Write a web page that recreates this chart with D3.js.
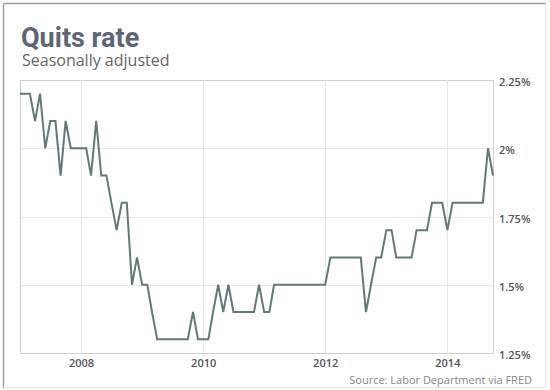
<!DOCTYPE html>
<html>
<head>
<meta charset="utf-8">
<script src="https://cdnjs.cloudflare.com/ajax/libs/d3/7.8.5/d3.min.js"></script>
<style>
  body { margin: 0; background: #fff; }
  text { font-family: "Open Sans", sans-serif; }
</style>
</head>
<body>
<div id="chart"></div>
<script>
// quits rate, monthly, Jan 2007 .. Oct 2014
var startMonth = '2007-01';
var quits = [
  2.2, 2.2, 2.2, 2.1, 2.2, 2.0, 2.1, 2.1, 1.9, 2.1, 2.0, 2.0, // 2007
  2.0, 2.0, 1.9, 2.1, 1.9, 1.9, 1.8, 1.7, 1.8, 1.8, 1.5, 1.6, // 2008
  1.5, 1.5, 1.4, 1.3, 1.3, 1.3, 1.3, 1.3, 1.3, 1.3, 1.4, 1.3, // 2009
  1.3, 1.3, 1.4, 1.5, 1.4, 1.5, 1.4, 1.4, 1.4, 1.4, 1.4, 1.5, // 2010
  1.4, 1.4, 1.5, 1.5, 1.5, 1.5, 1.5, 1.5, 1.5, 1.5, 1.5, 1.5, // 2011
  1.5, 1.6, 1.6, 1.6, 1.6, 1.6, 1.6, 1.6, 1.4, 1.5, 1.6, 1.6, // 2012
  1.7, 1.7, 1.6, 1.6, 1.6, 1.6, 1.7, 1.7, 1.7, 1.8, 1.8, 1.8, // 2013
  1.7, 1.8, 1.8, 1.8, 1.8, 1.8, 1.8, 1.8, 2.0, 1.9            // 2014
];
var yTicks = [1.25, 1.5, 1.75, 2, 2.25];
var yearTicks = [2008, 2010, 2012, 2014];

var title = 'Quits rate',
    subtitle = 'Seasonally adjusted',
    source = 'Source: Labor Department via FRED';

var W = 550, H = 390;
var plot = {left: 20, right: 493, top: 80, bottom: 353};

var parseMonth = d3.timeParse('%Y-%m');
var t0 = parseMonth(startMonth);
var data = quits.map(function(v, i) {
  return {date: d3.timeMonth.offset(t0, i), value: v};
});

var svg = d3.select('#chart').append('svg')
  .attr('width', W)
  .attr('height', H);

// outer frame
svg.append('line').attr('x1', 3.5).attr('y1', 3.5).attr('x2', 546).attr('y2', 3.5)
  .style('stroke', '#a0a0a0').style('stroke-width', 1.5);
svg.append('line').attr('x1', 3.5).attr('y1', 3.5).attr('x2', 3.5).attr('y2', 388)
  .style('stroke', '#a0a0a0').style('stroke-width', 1.5);
svg.append('line').attr('x1', 545.5).attr('y1', 3.5).attr('x2', 545.5).attr('y2', 387.5)
  .style('stroke', '#e2e2e2');
svg.append('line').attr('x1', 3.5).attr('y1', 387.5).attr('x2', 545.5).attr('y2', 387.5)
  .style('stroke', '#e2e2e2');

var x = d3.scaleTime()
  .domain(d3.extent(data, function(d) { return d.date; }))
  .range([plot.left, plot.right]);
var y = d3.scaleLinear()
  .domain([1.25, 2.25])
  .range([plot.bottom, plot.top]);

// grid
var grid = svg.append('g').attr('class', 'grid');
grid.selectAll('.hgrid').data(yTicks).enter()
  .append('line')
  .attr('class', 'hgrid')
  .attr('x1', plot.left).attr('x2', plot.right)
  .attr('y1', function(d) { return Math.round(y(d)) + 0.5; })
  .attr('y2', function(d) { return Math.round(y(d)) + 0.5; })
  .style('stroke', function(d, i) { return (i === 0 || i === yTicks.length-1) ? '#d0d0d0' : '#e8e8e8'; });
grid.selectAll('.vgrid').data(yearTicks).enter()
  .append('line')
  .attr('class', 'vgrid')
  .attr('x1', function(d) { return Math.round(x(new Date(d, 0, 1))) + 0.5; })
  .attr('x2', function(d) { return Math.round(x(new Date(d, 0, 1))) + 0.5; })
  .attr('y1', plot.top).attr('y2', plot.bottom)
  .style('stroke', '#e8e8e8');
// plot sides
grid.selectAll('.side').data([plot.left, plot.right]).enter()
  .append('line')
  .attr('class', 'side')
  .attr('x1', function(d) { return d + 0.5; })
  .attr('x2', function(d) { return d + 0.5; })
  .attr('y1', plot.top).attr('y2', plot.bottom + 0.5)
  .style('stroke', '#d0d0d0');

// axes, drawn with d3 axis then restyled
var yAxis = svg.append('g')
  .attr('transform', 'translate(' + (plot.right + 6) + ',0)')
  .call(d3.axisRight(y).tickValues(yTicks).tickSize(0)
    .tickFormat(function(d) { return d3.format('~g')(d) + '%'; }));
yAxis.select('.domain').remove();
yAxis.selectAll('text')
  .attr('x', 0)
  .attr('dy', '0.5em')
  .style('font-family', '"Open Sans", sans-serif')
  .style('font-size', '11px')
  .style('font-weight', 600)
  .style('fill', '#555');

var xAxis = svg.append('g')
  .attr('transform', 'translate(0,' + plot.bottom + ')')
  .call(d3.axisBottom(x)
    .tickValues(yearTicks.map(function(d) { return new Date(d, 0, 1); }))
    .tickSize(0)
    .tickFormat(d3.timeFormat('%Y')));
xAxis.select('.domain').remove();
xAxis.selectAll('text')
  .attr('y', 14)
  .attr('dy', 0)
  .style('font-family', '"Open Sans", sans-serif')
  .style('font-size', '11px')
  .style('font-weight', 600)
  .style('fill', '#555');

// the line
var line = d3.line()
  .x(function(d) { return x(d.date); })
  .y(function(d) { return y(d.value); });
svg.append('path')
  .datum(data)
  .attr('d', line)
  .style('fill', 'none')
  .style('stroke', '#637979')
  .style('stroke-width', 2)
  .style('stroke-linejoin', 'miter');

// titles
svg.append('text')
  .attr('x', 21).attr('y', 47)
  .text(title)
  .style('font-family', 'Roboto, sans-serif')
  .style('font-weight', 700)
  .style('font-size', '27px')
  .style('fill', '#5e6673');
svg.append('text')
  .attr('x', 22).attr('y', 66)
  .text(subtitle)
  .style('font-size', '16px')
  .style('fill', '#666');
svg.append('text')
  .attr('x', 532).attr('y', 384)
  .attr('text-anchor', 'end')
  .text(source)
  .style('font-size', '11px')
  .style('fill', '#888');
</script>
</body>
</html>
